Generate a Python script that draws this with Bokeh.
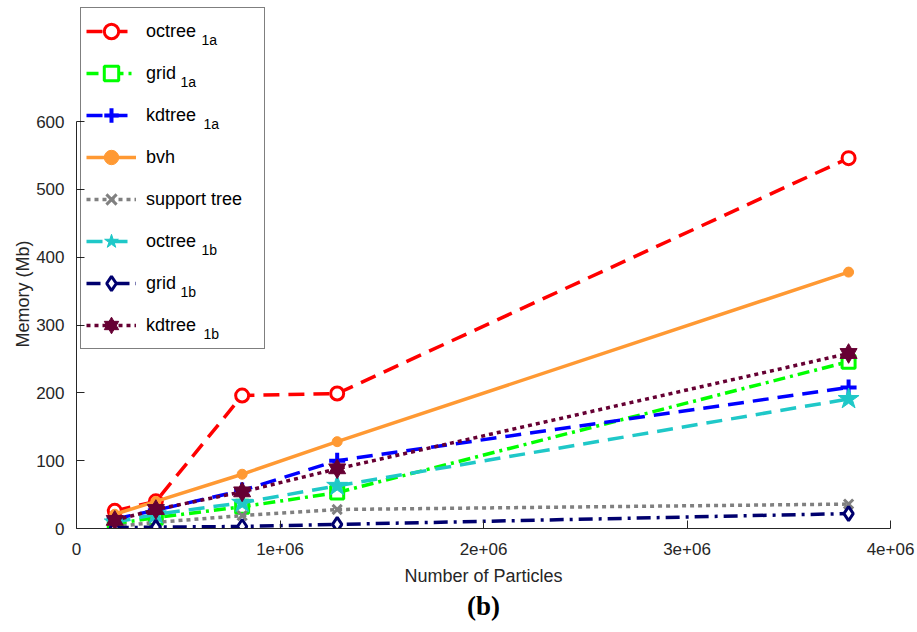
import math
from bokeh.plotting import figure
from bokeh.models import Range1d, FixedTicker, Legend, LegendItem, Title
from bokeh.core.properties import value
from bokeh.embed import file_html
from bokeh.resources import INLINE

# ---------------- data ----------------
particles = [188000, 390000, 814000, 1281000, 3794000]
octree_1a = [26, 40, 196, 199, 546]
grid_1a = [7, 16, 32, 53, 246]
kdtree_1a = [14, 27, 56, 100, 208]
bvh = [21, 40, 80, 128, 378]
support_tree = [3, 9, 19, 28, 36]
octree_1b = [9, 21, 38, 63, 191]
grid_1b = [1, 2, 3, 6, 22]
kdtree_1b = [12, 28, 54, 88, 258]

x_ticks = [0, 1000000, 2000000, 3000000, 4000000]
x_tick_labels = ["0", "1e+06", "2e+06", "3e+06", "4e+06"]
y_ticks = [0, 100, 200, 300, 400, 500, 600]

series_names = ["octree", "grid", "kdtree", "bvh", "support tree", "octree", "grid", "kdtree"]
series_subs = ["1a", "1a", "1a", "", "", "1b", "1b", "1b"]

# ---------------- layout ----------------
W, H = 917, 632
ML, MR, MT, MB = 76, 27, 5, 104
X_MAX = 4000000
AXIS_TOP_PX = 121          # canvas y of the 600 tick
FRAME_BOTTOM = H - MB      # canvas y of 0
AXIS_H = FRAME_BOTTOM - AXIS_TOP_PX
FRAME_H = FRAME_BOTTOM - MT
FRAME_W = W - ML - MR
Y_MAX = 600 * FRAME_H / AXIS_H

FONT = "Liberation Sans"
AX_COLOR = "#262626"

p = figure(width=W, height=H, output_backend="svg", toolbar_location=None,
           x_range=Range1d(0, X_MAX), y_range=Range1d(0, Y_MAX),
           min_border_left=ML, min_border_right=MR, min_border_top=MT,
           min_border_bottom=MB)
p.title.visible = False
p.outline_line_color = None
p.grid.visible = False
p.background_fill_color = "white"
p.border_fill_color = "white"

for ax in (p.xaxis[0], p.yaxis[0]):
    ax.axis_line_color = AX_COLOR
    ax.axis_line_width = 1
    ax.major_tick_line_color = AX_COLOR
    ax.major_tick_in = 8
    ax.major_tick_out = 0
    ax.minor_tick_line_color = None
    ax.major_label_text_font = FONT
    ax.major_label_text_font_size = "17px"
    ax.major_label_text_color = AX_COLOR

p.xaxis.ticker = FixedTicker(ticks=x_ticks)
p.xaxis.major_label_overrides = {t: l for t, l in zip(x_ticks, x_tick_labels)}
p.xaxis.major_label_standoff = 14
p.xaxis.axis_label = "Number of Particles"
p.xaxis.axis_label_text_font = FONT
p.xaxis.axis_label_text_font_size = "18px"
p.xaxis.axis_label_text_font_style = "normal"
p.xaxis.axis_label_text_color = AX_COLOR
p.xaxis.axis_label_standoff = 8

p.yaxis.ticker = FixedTicker(ticks=y_ticks)
p.yaxis.bounds = (0, 600)
p.yaxis.major_label_standoff = 12

LW = 3.5
items = []

def add_series(ys, color, dash, markers, name):
    rs = [p.line(particles, ys, line_color=color, line_width=LW, line_dash=dash)]
    for m in markers:
        rs.append(p.scatter(particles, ys, **m))
    items.append(LegendItem(label=name, renderers=rs))

add_series(octree_1a, "#ff0000", "16 9",
           [dict(marker="circle", size=13, line_color="#ff0000", line_width=3, fill_color="white")],
           series_names[0])
add_series(grid_1a, "#00ff00", "12 5 3 5",
           [dict(marker="square", size=13, line_color="#00ff00", line_width=3, fill_color="white")],
           series_names[1])
add_series(kdtree_1a, "#0000ff", "16 9",
           [dict(marker="cross", size=16, line_color="#0000ff", line_width=4)],
           series_names[2])
add_series(bvh, "#ff9933", "solid",
           [dict(marker="circle", size=10, line_color="#ff9933", fill_color="#ff9933")],
           series_names[3])
add_series(support_tree, "#808080", "4 4",
           [dict(marker="x", size=13, line_color="#808080", line_width=3)],
           series_names[4])
add_series(octree_1b, "#1fc8c8", "16 9",
           [dict(marker="star", size=22, line_color="#1fc8c8", fill_color="#1fc8c8")],
           series_names[5])
add_series(grid_1b, "#00006e", "14 6 3 6",
           [dict(marker="diamond", size=14, line_color="#00006e", line_width=3, fill_color="white")],
           series_names[6])
add_series(kdtree_1b, "#660033", "4 4",
           [dict(marker="triangle", size=17, line_color="#660033", fill_color="#660033"),
            dict(marker="inverted_triangle", size=17, line_color="#660033", fill_color="#660033")],
           series_names[7])

# legend (transparent background so the subscript texts beneath it show)
LEG_X, LEG_Y = 4, 179
PAD, GW, GH, SP, STANDOFF = 5, 50, 36, 6, 10
legend = Legend(items=items, location=(LEG_X, LEG_Y), orientation="vertical",
                glyph_width=GW, glyph_height=GH, spacing=SP, padding=PAD, margin=0,
                label_standoff=STANDOFF, label_width=113, label_height=GH,
                label_text_font=FONT, label_text_font_size="18px", label_text_color="black",
                border_line_color="black", border_line_width=1,
                background_fill_alpha=0)
p.add_layout(legend, "center")

# subscripts of the legend labels, placed in pixel layout then mapped to data units
n = len(items)
leg_h = n * GH + (n - 1) * SP + 2 * PAD
leg_top = LEG_Y + leg_h  # frame-relative (y up)
label_x0 = LEG_X + PAD + GW + STANDOFF
sub_offsets = {"octree": 56, "grid": 35, "kdtree": 58}
sx, sy, st = [], [], []
for i, (nm, sub) in enumerate(zip(series_names, series_subs)):
    if not sub:
        continue
    row_center = leg_top - PAD - GH / 2 - i * (GH + SP)
    sx.append((label_x0 + sub_offsets[nm]) * X_MAX / FRAME_W)
    sy.append((row_center - 15) * Y_MAX / FRAME_H)
    st.append(sub)
p.text(x=sx, y=sy, text=st, text_font=value(FONT), text_font_size="14px",
       text_color="black", text_baseline="bottom", text_align="left")

# y-axis title (as a side title so it can be shifted along the axis)
p.add_layout(Title(text="Memory (Mb)", align="left", offset=FRAME_BOTTOM - 347,
                   text_font=FONT, text_font_size="18px", text_font_style="normal",
                   text_color=AX_COLOR, standoff=2), "left")

# caption
p.add_layout(Title(text="(b)", align="center", text_font="Liberation Serif",
                   text_font_style="bold", text_font_size="27px",
                   text_color="black", standoff=0), "below")

open("out.html", "w").write(file_html(p, INLINE))
